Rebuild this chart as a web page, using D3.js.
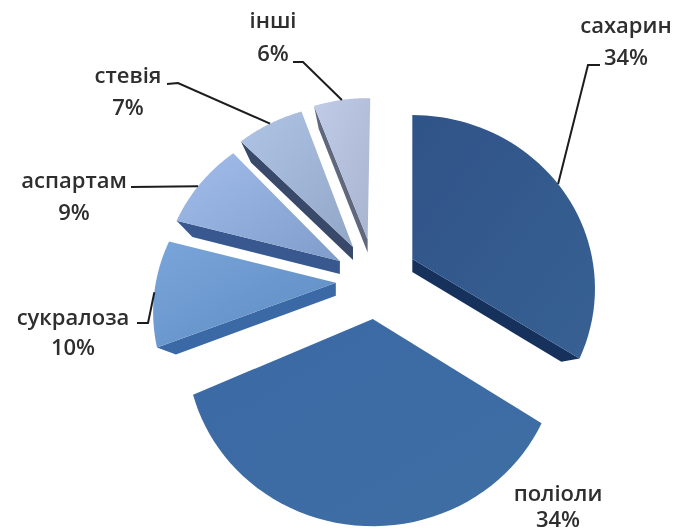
<!DOCTYPE html>
<html>
<head>
<meta charset="utf-8">
<script src="https://cdn.jsdelivr.net/npm/d3@7"></script>
<style>
html,body{margin:0;padding:0;background:#fff;}
svg{display:block;}
text{font-family:"Open Sans",sans-serif;font-weight:600;font-size:22px;fill:#2e2e2e;text-anchor:middle;}
</style>
</head>
<body>
<svg id="chart" width="676" height="529"></svg>
<script>
// data
const categories = ["сахарин","поліоли","сукралоза","аспартам","стевія","інші"];
const shares = [34,34,10,9,7,6];

// style
const faceStart = ["#2f5488","#3a6aa5","#7aa5da","#a2bdea","#b0c4e6","#c0cbe8"];
const faceEnd   = ["#386093","#3f6ea3","#5c8cc2","#7f9ccb","#92a7c8","#a9b5cf"];
const sideFill  = ["#15305c",null,"#3b69a6","#37598f","#39496a","#5e687c"];

// layout
const labelX  = [626,558,73,74,128,273];
const nameY   = [33,501,325,188,83,28];
const pctY    = [65,527,355,220,115,61];
const elbowFrom = [[600,65],null,[137,323],[131,187],[167,84],[293,62]];
const elbowAt   = [[588,65],null,[148,323],[131,187],[178,83],[303,62]];
const leaderFrac = [0.5,null,0.5,0.45,0.5,0.5];
const explode = [42,44,40,40,40,42];
const radii = [180,183,180,176,178,176];
const turnDeg = [0,1,4,4,2,1];

const W=676,H=529,cx=375.5,cy=278,tilt=0.936,dist=1058,depth=13,innerEdge=0.9;

const svg=d3.select("#chart");
const defs=svg.append("defs");
defs.append("filter").attr("id","soft").attr("x","-5%").attr("y","-5%").attr("width","110%").attr("height","110%")
  .append("feGaussianBlur").attr("stdDeviation",0.55);

const arcs=d3.pie().sort(null).startAngle(0).endAngle(2*Math.PI)(shares);

// Radial position in the pie plane -> perspective screen coordinates, shifted by the slice's explosion
function place(d,a0,r,z=0){
  const a=a0+turnDeg[d.index]*Math.PI/180;
  const mid=(d.startAngle+d.endAngle)/2, e=explode[d.index];
  const px=Math.sin(a)*r, py=-Math.cos(a)*r;
  const s=dist/(dist-py);
  return [cx+Math.sin(mid)*e+px*s, cy-Math.cos(mid)*e*tilt+(py*tilt+z)*s];
}
const line=d3.line();

const root=svg.append("g").attr("filter","url(#soft)");

arcs.forEach((d,i)=>{
  const g=defs.append("linearGradient").attr("id","face"+i)
    .attr("x1","0").attr("y1","0").attr("x2","1").attr("y2","1");
  g.append("stop").attr("offset","0").attr("stop-color",faceStart[i]);
  g.append("stop").attr("offset","1").attr("stop-color",faceEnd[i]);
});

const slices=root.selectAll("g.slice").data(arcs).join("g").attr("class","slice");

// radial side wall
slices.filter((d,i)=>sideFill[i]).append("path")
  .attr("fill",d=>sideFill[d.index])
  .attr("d",d=>{
    const a=d.index===0?d.endAngle:d.startAngle, R=radii[d.index];
    return line([place(d,a,0),place(d,a,R),place(d,a,R*innerEdge,depth),place(d,a,0,depth)])+"Z";
  });

// top face
slices.append("path")
  .attr("fill",d=>`url(#face${d.index})`)
  .attr("d",d=>{
    const pts=[place(d,0,0)];
    d3.range(0,49).forEach(k=>{
      const a=d3.interpolateNumber(d.startAngle,d.endAngle)(k/48);
      pts.push(place(d,a,radii[d.index]));
    });
    return line(pts)+"Z";
  });

// leader lines
const leaders=svg.append("g").attr("filter","url(#soft)");
arcs.forEach((d,i)=>{
  if(leaderFrac[i]==null) return;
  const a=d.startAngle+(d.endAngle-d.startAngle)*leaderFrac[i];
  leaders.append("path").attr("fill","none").attr("stroke","#1c1c1c").attr("stroke-width",2)
    .attr("d",line([elbowFrom[i],elbowAt[i],place(d,a,radii[i])]));
});

// labels
const labels=svg.append("g").attr("filter","url(#soft)");
categories.forEach((c,i)=>{
  labels.append("text").attr("x",labelX[i]).attr("y",nameY[i]).text(c);
  labels.append("text").attr("x",labelX[i]).attr("y",pctY[i]).text(shares[i]+"%");
});
</script>
</body>
</html>
